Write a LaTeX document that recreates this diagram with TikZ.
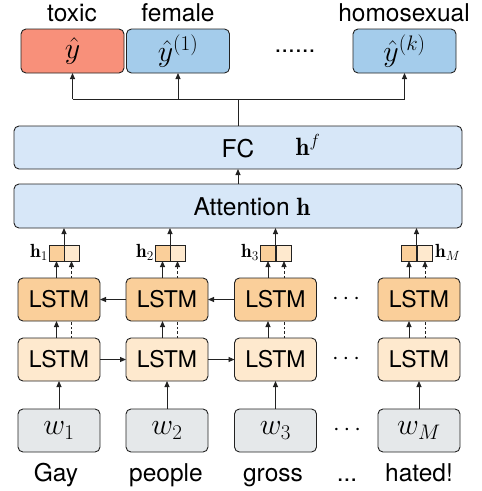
\RequirePackage{fix-cm}
\documentclass[tikz,border=0pt]{standalone}
\usepackage{fontspec}
\newfontfamily\hv{TeX Gyre Heros}
\usetikzlibrary{arrows.meta}
\definecolor{cred}{HTML}{F8907A}
\definecolor{cblue}{HTML}{A4CCEB}
\definecolor{clblue}{HTML}{D7E7F8}
\definecolor{cup}{HTML}{FACF9A}
\definecolor{clow}{HTML}{FEE9CE}
\definecolor{cgray}{HTML}{E5E8EA}
\definecolor{cline}{HTML}{222222}
\begin{document}
\begin{tikzpicture}[x=1pt,y=-1pt,
  box/.style={draw=cline, line width=0.9pt, rounded corners=5pt, inner sep=0pt, outer sep=0pt},
  hbox/.style={draw=cline, line width=0.9pt, inner sep=0pt, outer sep=0pt, minimum width=15pt, minimum height=16pt},
  lstmbox/.style={box, minimum width=82pt, minimum height=43pt, font=\hv\fontsize{23}{26}\selectfont},
  wbox/.style={box, fill=cgray, minimum width=82pt, minimum height=43pt, font=\fontsize{30}{34}\selectfont},
  obox/.style={box, minimum width=103pt, minimum height=44pt, font=\fontsize{30}{34}\selectfont},
  lbl/.style={font=\hv\fontsize{24.5}{28}\selectfont, inner sep=0pt, anchor=base},
  hlbl/.style={font=\fontsize{19}{22}\selectfont, inner sep=0pt},
  arr/.style={-{Triangle[length=6pt,width=5pt]}, line width=0.9pt, draw=cline},
  ln/.style={line width=0.9pt, draw=cline},
  dsh/.style={dash pattern=on 2.5pt off 2pt}
]
\useasboundingbox (0,0) rectangle (482,491);

% output boxes
\node[obox, fill=cred] (o0) at (72.5,51) {$\hat{y}$};
\node[obox, fill=cblue] (o1) at (178,51) {$\hat{y}^{(1)}$};
\node[obox, fill=cblue] (ok) at (404.5,51) {$\hat{y}^{(k)}$};
\node[lbl] (t0) at (72,21.5) {toxic};
\node[lbl] (t1) at (178,21.5) {female};
\node[lbl] (tk) at (404,21.5) {homosexual};
\node[lbl] (odots) at (295,52) {......};

% FC and attention
\node[box, fill=clblue, minimum width=448pt, minimum height=43pt] (fc) at (238,147.5) {};
\node[lbl, anchor=center] (fct) at (238,149) {FC};
\node[hlbl, font=\fontsize{25}{28}\selectfont] (hf) at (308,145) {$\mathbf{h}^f$};
\node[box, fill=clblue, minimum width=448pt, minimum height=44pt] (att) at (238,206) {};
\node[lbl, anchor=center] (att t) at (252,207) {Attention \fontsize{25}{28}\selectfont$\mathbf{h}$};

\coordinate (jn) at (238,99);
\draw[ln] (fc.north) -- (jn);
\draw[ln] (o0.south |- jn) -- (ok.south |- jn);
\draw[arr] (o0.south |- jn) -- (o0.south);
\draw[arr] (o1.south |- jn) -- (o1.south);
\draw[arr] (ok.south |- jn) -- (ok.south);
\draw[arr] (att.north) -- (fc.south);

% h boxes
\node[hbox, fill=cup] (h1a) at (56.5,253) {};
\node[hbox, fill=clow] (h1b) at (71.5,253) {};
\node[hbox, fill=cup] (h2a) at (162.5,253) {};
\node[hbox, fill=clow] (h2b) at (177.5,253) {};
\node[hbox, fill=cup] (h3a) at (268,253) {};
\node[hbox, fill=clow] (h3b) at (284,253) {};
\node[hbox, fill=cup] (hMa) at (409,253) {};
\node[hbox, fill=clow] (hMb) at (425,253) {};
\node[hlbl, anchor=east] (h1l) at (48,252) {$\mathbf{h}_1$};
\node[hlbl, anchor=east] (h2l) at (154,252) {$\mathbf{h}_2$};
\node[hlbl, anchor=east] (h3l) at (259,252) {$\mathbf{h}_3$};
\node[hlbl, anchor=west] (hMl) at (435,252) {$\mathbf{h}_M$};

\draw[arr] (h1a.north east) -- (att.south -| h1a.north east);
\draw[arr] (h2a.north east) -- (att.south -| h2a.north east);
\draw[arr] (h3a.north east) -- (att.south -| h3a.north east);
\draw[arr] (hMa.north east) -- (att.south -| hMa.north east);

% LSTM rows
\node[lstmbox, fill=cup] (u1) at (59,299.5) {LSTM};
\node[lstmbox, fill=cup] (u2) at (167,299.5) {LSTM};
\node[lstmbox, fill=cup] (u3) at (275.5,299.5) {LSTM};
\node[lstmbox, fill=cup] (uM) at (419,299.5) {LSTM};
\node[lstmbox, fill=clow] (l1) at (59,359.5) {LSTM};
\node[lstmbox, fill=clow] (l2) at (167,359.5) {LSTM};
\node[lstmbox, fill=clow] (l3) at (275.5,359.5) {LSTM};
\node[lstmbox, fill=clow] (lM) at (419,359.5) {LSTM};

\draw[arr] (u2.west) -- (u1.east);
\draw[arr] (u3.west) -- (u2.east);
\draw[arr] (l1.east) -- (l2.west);
\draw[arr] (l2.east) -- (l3.west);

\foreach \c/\a/\b in {1/h1a/h1b,2/h2a/h2b,3/h3a/h3b,M/hMa/hMb}{
  \draw[arr] (u\c.north -| \a) -- (\a.south);
  \draw[arr, dsh] (u\c.north -| \b) -- (\b.south);
  \draw[arr] (l\c.north -| \a) -- (u\c.south -| \a);
  \draw[ln, dsh] (l\c.north -| \b) -- (u\c.south -| \b);
}

% words
\node[wbox] (w1) at (59,430.5) {$w_1$};
\node[wbox] (w2) at (167,430.5) {$w_2$};
\node[wbox] (w3) at (275.5,430.5) {$w_3$};
\node[wbox] (wM) at (419,430.5) {$w_M$};
\foreach \c in {1,2,3,M}{ \draw[arr] (w\c.north) -- (l\c.south); }

\node[lbl] (g1) at (56,481) {Gay};
\node[lbl] (g2) at (166,481) {people};
\node[lbl] (g3) at (273,481) {gross};
\node[lbl] (gM) at (419,481) {hated!};
\node[lbl] (gd) at (347,481) {...};

\node[font=\fontsize{24}{28}\selectfont, inner sep=0pt] (d1) at (346,299.5) {$\cdots$};
\node[font=\fontsize{24}{28}\selectfont, inner sep=0pt] (d2) at (346,359.5) {$\cdots$};
\node[font=\fontsize{24}{28}\selectfont, inner sep=0pt] (d3) at (347,430.5) {$\cdots$};
\end{tikzpicture}
\end{document}
